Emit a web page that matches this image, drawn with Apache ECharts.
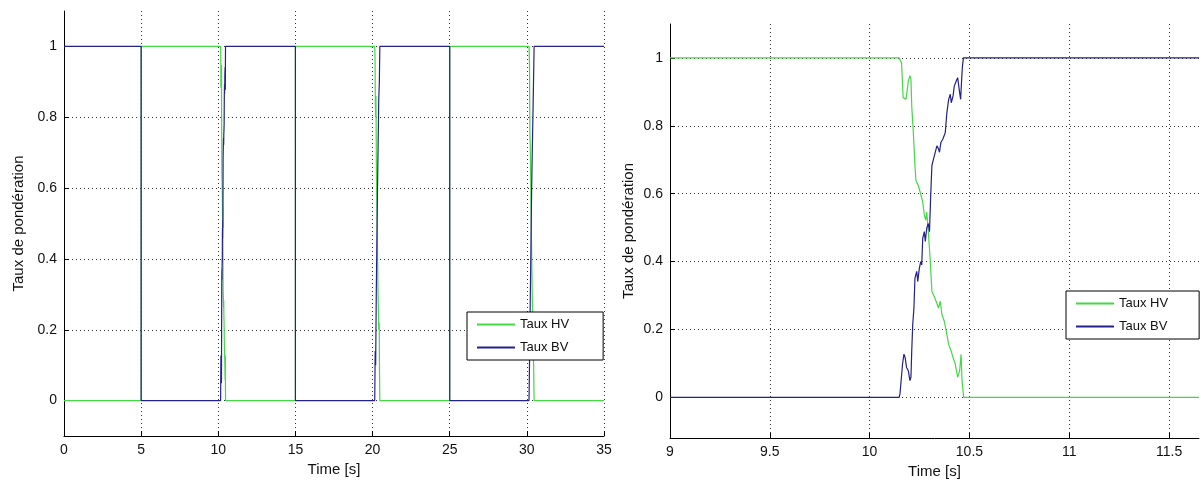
<!DOCTYPE html>
<html>
<head>
<meta charset="utf-8">
<script src="https://cdn.jsdelivr.net/npm/echarts@6/dist/echarts.min.js"></script>
<style>
html,body{margin:0;padding:0;background:#fff;}
#chart{width:1201px;height:484px;}
</style>
</head>
<body>
<div id="chart"></div>
<script>
// ---- data ----
var seriesNames = ['Taux HV', 'Taux BV'];
var yTicks = [0, 0.2, 0.4, 0.6, 0.8, 1];
var xTicksLeft = [0, 5, 10, 15, 20, 25, 30, 35];
var xTicksRight = [9, 9.5, 10, 10.5, 11, 11.5];

// transition around t = 10 s (detail, right panel)
var trans10HV = [[10.148,1],[10.160,0.985],[10.168,0.883],[10.182,0.878],[10.194,0.932],[10.202,0.948],[10.207,0.937],[10.211,0.858],[10.219,0.78],[10.227,0.683],[10.232,0.639],[10.244,0.624],[10.253,0.605],[10.261,0.61],[10.266,0.576],[10.274,0.537],[10.281,0.522],[10.286,0.546],[10.294,0.488],[10.303,0.41],[10.312,0.312],[10.320,0.302],[10.333,0.283],[10.345,0.263],[10.354,0.283],[10.362,0.244],[10.374,0.224],[10.384,0.195],[10.396,0.156],[10.408,0.137],[10.418,0.117],[10.429,0.098],[10.441,0.059],[10.451,0.078],[10.458,0.127],[10.463,0.049],[10.471,0]];
var trans10BV = [[10.148,0],[10.152,0.010],[10.160,0.015],[10.165,0.098],[10.172,0.127],[10.178,0.117],[10.185,0.088],[10.194,0.078],[10.202,0.049],[10.207,0.059],[10.211,0.137],[10.216,0.215],[10.222,0.263],[10.227,0.351],[10.236,0.371],[10.241,0.341],[10.249,0.380],[10.256,0.4],[10.261,0.390],[10.266,0.468],[10.274,0.488],[10.279,0.459],[10.286,0.498],[10.294,0.512],[10.300,0.488],[10.306,0.595],[10.312,0.683],[10.320,0.702],[10.328,0.707],[10.337,0.741],[10.345,0.732],[10.350,0.722],[10.357,0.751],[10.367,0.761],[10.379,0.78],[10.387,0.839],[10.396,0.878],[10.404,0.893],[10.409,0.868],[10.418,0.888],[10.424,0.917],[10.434,0.932],[10.441,0.942],[10.446,0.937],[10.451,0.898],[10.456,0.878],[10.461,0.937],[10.465,0.976],[10.470,1]];
// transitions around t = 20 s and t = 30 s (left panel only)
var trans20HV = [[20.14,1],[20.16,0.97],[20.18,0.84],[20.20,0.80],[20.22,0.86],[20.25,0.65],[20.30,0.50],[20.35,0.32],[20.40,0.20],[20.43,0.22],[20.45,0.08],[20.47,0]];
var trans20BV = [[20.14,0],[20.17,0.14],[20.20,0.10],[20.24,0.30],[20.28,0.45],[20.32,0.60],[20.36,0.72],[20.40,0.85],[20.44,0.90],[20.47,1]];
var trans30HV = [[30.14,1],[30.17,0.95],[30.20,0.75],[30.22,0.72],[30.26,0.60],[30.30,0.45],[30.35,0.30],[30.40,0.15],[30.44,0.10],[30.47,0]];
var trans30BV = [[30.14,0],[30.17,0.10],[30.22,0.28],[30.27,0.45],[30.31,0.60],[30.35,0.70],[30.40,0.82],[30.44,0.92],[30.47,1]];
// instantaneous switches (HV goes 0 -> 1, BV goes 1 -> 0)
var switchTimes = [5, 15, 25];
var tStartLeft = 0, tEndLeft = 35;
var tStartRight = 9, tEndRight = 11.65;

// ---- build full series ----
function buildLeft(isHV) {
  var lo = isHV ? 0 : 1, hi = isHV ? 1 : 0;
  var trans = isHV ? [trans10HV, trans20HV, trans30HV] : [trans10BV, trans20BV, trans30BV];
  var pts = [[tStartLeft, lo]];
  for (var i = 0; i < switchTimes.length; i++) {
    pts.push([switchTimes[i], lo]);
    pts.push([switchTimes[i], hi]);
    pts = pts.concat(trans[i]);
  }
  pts.push([tEndLeft, lo]);
  return pts;
}
var leftHV = buildLeft(true);
var leftBV = buildLeft(false);
var rightHV = [[tStartRight, 1]].concat(trans10HV, [[tEndRight, 0]]);
var rightBV = [[tStartRight, 0]].concat(trans10BV, [[tEndRight, 1]]);

var colHV = '#45d845', colBV = '#22228a';
var font = 'Liberation Sans, Arial, sans-serif';
var txt = '#111';

function xAxis(gi, min, max, ticks) {
  return {
    type: 'value', gridIndex: gi, min: min, max: max,
    name: 'Time [s]', nameLocation: 'middle', nameGap: 26,
    nameTextStyle: {fontFamily: font, fontSize: 15, color: txt},
    axisLine: {show: true, onZero: false, lineStyle: {color: '#000', width: 1}},
    axisTick: {show: true, inside: true, length: 5, customValues: ticks, lineStyle: {color: '#000'}},
    axisLabel: {customValues: ticks, margin: 7, fontFamily: font, fontSize: 14, color: txt},
    splitLine: {show: true, lineStyle: {type: [1, 3], color: '#333', width: 1}}
  };
}
function yAxis(gi, min, gap) {
  return {
    type: 'value', gridIndex: gi, min: min, max: 1.1,
    name: 'Taux de pondération', nameLocation: 'middle', nameGap: gap,
    nameTextStyle: {fontFamily: font, fontSize: 15, color: txt},
    axisLine: {show: true, onZero: false, lineStyle: {color: '#000', width: 1}},
    axisTick: {show: true, inside: true, length: 5, customValues: yTicks, lineStyle: {color: '#000'}},
    axisLabel: {customValues: yTicks, margin: 7, fontFamily: font, fontSize: 14, color: txt},
    splitLine: {show: true, lineStyle: {type: [1, 3], color: '#333', width: 1}}
  };
}
function line(name, data, gi, color) {
  return {
    name: name, type: 'line', xAxisIndex: gi, yAxisIndex: gi, data: data,
    showSymbol: false, symbol: 'none', smooth: false, animation: false,
    lineStyle: {color: color, width: 1.2}, itemStyle: {color: color}
  };
}
function legend(left, top, padRight) {
  return {
    data: seriesNames, orient: 'vertical', left: left, top: top,
    backgroundColor: '#fff', borderColor: '#000', borderWidth: 1,
    padding: [6, padRight, 6, 9], itemGap: 10, itemWidth: 38, itemHeight: 14,
    itemStyle: {opacity: 0},
    textStyle: {fontFamily: font, fontSize: 13, color: txt}
  };
}

var chart = echarts.init(document.getElementById('chart'), null, {renderer: 'canvas'});
chart.setOption({
  backgroundColor: '#fff',
  animation: false,
  grid: [
    {left: 64, top: 11, width: 540, height: 425},
    {left: 670, top: 24, width: 529, height: 417}
  ],
  xAxis: [xAxis(0, tStartLeft, tEndLeft, xTicksLeft), xAxis(1, tStartRight, tEndRight, xTicksRight)],
  yAxis: [yAxis(0, -0.1, 38), yAxis(1, -0.12, 34)],
  legend: [legend(467, 312, 34), legend(1066, 291, 31)],
  series: [
    line(seriesNames[0], leftHV, 0, colHV),
    line(seriesNames[1], leftBV, 0, colBV),
    line(seriesNames[0], rightHV, 1, colHV),
    line(seriesNames[1], rightBV, 1, colBV)
  ]
});
</script>
</body>
</html>
